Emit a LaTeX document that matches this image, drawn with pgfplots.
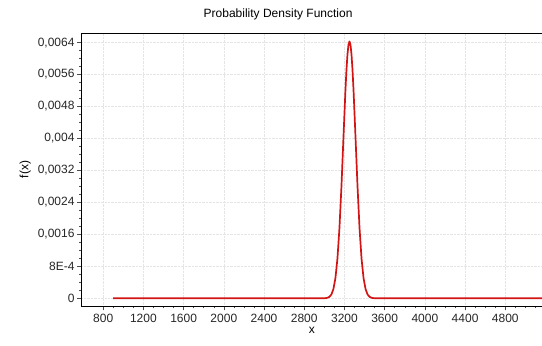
\documentclass[border=0pt]{standalone}
\usepackage{pgfplots}
\pgfplotsset{compat=1.18}
\usepackage{fontspec}
\setmainfont{Liberation Sans}
\definecolor{curvered}{RGB}{210,20,20}
\begin{document}
\begin{tikzpicture}
\begin{axis}[
  at={(0,0)}, anchor=south west,
  scale only axis,
  width=461pt, height=273pt,
  xmin=580, xmax=5170,
  ymin=-0.0002, ymax=0.00664,
  scaled y ticks=false,
  xtick={800,1200,...,4800,5200},
  ytick={0,0.0008,0.0016,0.0024,0.0032,0.004,0.0048,0.0056,0.0064},
  yticklabels={0,8E-4,{0,0016},{0,0024},{0,0032},{0,004},{0,0048},{0,0056},{0,0064}},
  minor x tick num=3,
  minor y tick num=3,
  tick align=outside,
  major tick length=4pt,
  minor tick length=2pt,
  xtick pos=bottom, ytick pos=left,
  grid=major,
  grid style={densely dotted, black!10},
  axis line style={black, line width=0.8pt},
  tick style={black!70, line width=0.5pt},
  /pgf/number format/assume math mode=true,
  /pgf/number format/1000 sep={},
  ticklabel style={font=\fontsize{12}{14}\selectfont, text=black!85},
  yticklabel style={xshift=1pt},
  title={Probability Density Function},
  title style={font=\fontsize{12}{14}\selectfont, at={(rel axis cs:0.427,1)}, anchor=south, yshift=3pt},
  xlabel={x},
  ylabel={f(x)},
  label style={font=\fontsize{12}{14}\selectfont},
  xlabel style={yshift=2pt},
  ylabel style={yshift=0pt},
]
\addplot[curvered, line width=1.7pt, line join=round] coordinates {
(900,0) (3000,0)
(3010,0.0000036) (3030,0.0000118) (3050,0.0000354) (3070,0.0000950)
(3090,0.000230) (3110,0.000503) (3130,0.000988) (3150,0.001751)
(3170,0.002797) (3190,0.004026) (3210,0.005222) (3220,0.005720)
(3230,0.006104) (3240,0.006347) (3250,0.006430) (3260,0.006347)
(3270,0.006104) (3280,0.005720) (3290,0.005222) (3310,0.004026)
(3330,0.002797) (3350,0.001751) (3370,0.000988) (3390,0.000503)
(3410,0.000230) (3430,0.0000950) (3450,0.0000354) (3470,0.0000118)
(3490,0.0000036) (3510,0) (5300,0)
};
\end{axis}
\pgfresetboundingbox
\useasboundingbox (-81pt,-39pt) rectangle (460.5pt,306pt);
\end{tikzpicture}
\end{document}
